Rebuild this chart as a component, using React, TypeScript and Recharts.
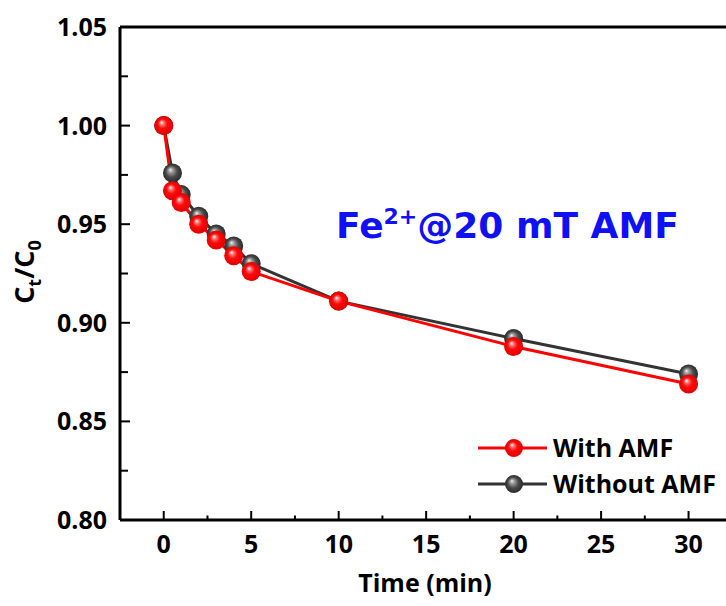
import React from 'react';
import { LineChart, Line, XAxis, YAxis, ReferenceLine } from 'recharts';

// sampling times (min) and normalised concentration Ct/C0
const times = [0, 0.5, 1, 2, 3, 4, 5, 10, 20, 30];
const withAMF = [1.0, 0.967, 0.961, 0.95, 0.942, 0.934, 0.926, 0.911, 0.888, 0.869];
const withoutAMF = [1.0, 0.976, 0.965, 0.954, 0.945, 0.939, 0.93, 0.911, 0.892, 0.874];

const xTicks = [0, 2.5, 5, 7.5, 10, 12.5, 15, 17.5, 20, 22.5, 25, 27.5, 30];
const yTicks = [0.8, 0.825, 0.85, 0.875, 0.9, 0.925, 0.95, 0.975, 1.0, 1.025, 1.05];

const data = times.map((t, i) => ({ t, withAMF: withAMF[i], withoutAMF: withoutAMF[i] }));

const FONT = '"Open Sans", "Noto Sans", sans-serif';
const TITLE_FONT = '"DejaVu Sans", Verdana, sans-serif';

const isMajor = (v: number, step: number) => Math.abs(v / step - Math.round(v / step)) < 1e-6;

const XTick = (props: any) => {
  const { x, y, payload } = props;
  const major = isMajor(payload.value, 5);
  return (
    <g>
      <line x1={x} x2={x} y1={y} y2={y - (major ? 9 : 4.5)} stroke="#000" strokeWidth={2} />
      {major && (
        <text x={x} y={y + 33} textAnchor="middle" fontFamily={FONT} fontWeight={700} fontSize={25} fill="#000">
          {payload.value}
        </text>
      )}
    </g>
  );
};

const YTick = (props: any) => {
  const { x, y, payload } = props;
  const major = isMajor(payload.value, 0.05);
  return (
    <g>
      <line x1={x} x2={x + (major ? 10 : 8)} y1={y} y2={y} stroke="#000" strokeWidth={2} />
      {major && (
        <text x={x - 13} y={y + 9} textAnchor="end" fontFamily={FONT} fontWeight={700} fontSize={25} fill="#000">
          {payload.value.toFixed(2)}
        </text>
      )}
    </g>
  );
};

const ball = (grad: string, r: number) => (props: any) => {
  const { cx, cy, index } = props;
  if (cx == null || cy == null) return <g key={`${grad}-${index}`} />;
  return <circle key={`${grad}-${index}`} cx={cx} cy={cy} r={r} fill={`url(#${grad})`} />;
};

export default function App() {
  return (
    <div style={{ position: 'absolute', left: 0, top: 0, width: 726, height: 606, background: '#fff' }}>
      <LineChart width={726} height={606} data={data} margin={{ top: 27, right: 0, bottom: 0, left: 0 }}>
        <defs>
          <radialGradient id="redBall" cx="0.5" cy="0.5" r="0.5" fx="0.38" fy="0.32">
            <stop offset="0%" stopColor="#ffffff" />
            <stop offset="22%" stopColor="#ff7070" />
            <stop offset="50%" stopColor="#ff0a0a" />
            <stop offset="100%" stopColor="#e00000" />
          </radialGradient>
          <radialGradient id="greyBall" cx="0.5" cy="0.5" r="0.5" fx="0.38" fy="0.32">
            <stop offset="0%" stopColor="#f0f0f0" />
            <stop offset="25%" stopColor="#9a9a9a" />
            <stop offset="60%" stopColor="#4a4a4a" />
            <stop offset="100%" stopColor="#2a2a2a" />
          </radialGradient>
        </defs>
        <XAxis
          dataKey="t"
          type="number"
          domain={[-2.5, 32.14]}
          ticks={xTicks}
          interval={0}
          allowDataOverflow
          height={86}
          tickSize={0}
          tickMargin={0}
          tickLine={false}
          axisLine={{ stroke: '#000', strokeWidth: 3 }}
          tick={XTick}
        />
        <YAxis
          type="number"
          domain={[0.8, 1.05]}
          ticks={yTicks}
          interval={0}
          allowDataOverflow
          width={120}
          tickSize={0}
          tickMargin={0}
          tickLine={false}
          axisLine={{ stroke: '#000', strokeWidth: 3 }}
          tick={YTick}
        />
        <ReferenceLine y={1.05} stroke="#000" strokeWidth={3} />
        <Line
          dataKey="withoutAMF"
          type="linear"
          stroke="#333333"
          strokeWidth={3}
          dot={ball('greyBall', 9.5)}
          activeDot={false}
          isAnimationActive={false}
        />
        <Line
          dataKey="withAMF"
          type="linear"
          stroke="#ff0000"
          strokeWidth={3}
          dot={ball('redBall', 9.5)}
          activeDot={false}
          isAnimationActive={false}
        />

        {/* annotation */}
        <text x={336} y={238} fontFamily={TITLE_FONT} fontWeight={700} fontSize={36} fill="#1010f5">
          Fe<tspan fontSize={22} dy={-14}>2+</tspan>
          <tspan fontSize={36} dy={14}>@20 mT AMF</tspan>
        </text>

        {/* legend */}
        <line x1={478} x2={547} y1={448} y2={448} stroke="#ff0000" strokeWidth={3} />
        <circle cx={514} cy={448} r={9} fill="url(#redBall)" />
        <text x={553} y={457} fontFamily={FONT} fontWeight={700} fontSize={25} fill="#000">With AMF</text>
        <line x1={478} x2={547} y1={484} y2={484} stroke="#333333" strokeWidth={3} />
        <circle cx={514} cy={484} r={9} fill="url(#greyBall)" />
        <text x={553} y={493} fontFamily={FONT} fontWeight={700} fontSize={25} fill="#000">Without AMF</text>

        {/* axis titles */}
        <text x={425} y={592} textAnchor="middle" fontFamily={FONT} fontWeight={700} fontSize={25} fill="#000">
          Time (min)
        </text>
        <text transform="translate(34,272) rotate(-90)" textAnchor="middle" fontFamily={FONT} fontWeight={700} fontSize={27} fill="#000">
          C<tspan fontSize={18} dy={7}>t</tspan>
          <tspan fontSize={27} dy={-7}>/C</tspan>
          <tspan fontSize={18} dy={7}>0</tspan>
        </text>
      </LineChart>
    </div>
  );
}
